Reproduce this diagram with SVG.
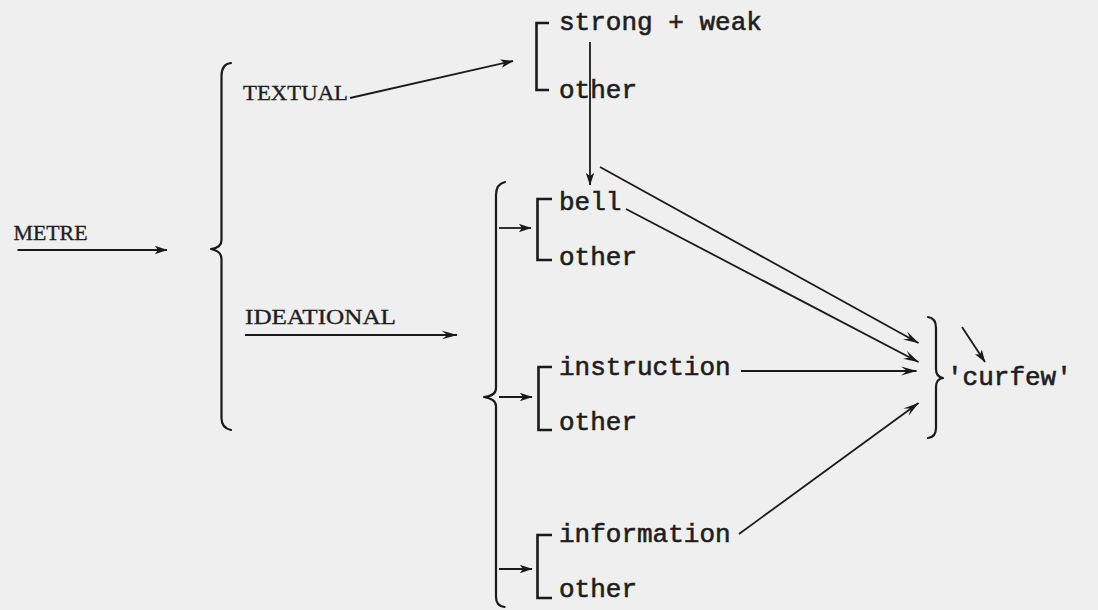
<svg xmlns="http://www.w3.org/2000/svg" width="1098" height="610" viewBox="0 0 1098 610">
  <defs>
    <marker id="head" viewBox="0 0 12 8" refX="11.5" refY="4" markerWidth="13" markerHeight="8.5" markerUnits="userSpaceOnUse" orient="auto">
      <path d="M0,0 L12,4 L0,8 L3,4 z" fill="#1a1a1a"/>
    </marker>
    <marker id="barb" viewBox="0 0 16 10" refX="15.5" refY="5" markerWidth="16" markerHeight="10" markerUnits="userSpaceOnUse" orient="auto">
      <path d="M0,0.5 L16,5 L0,9.5 L6,5 z" fill="#1a1a1a"/>
    </marker>
  </defs>
  <style>
    .caps { font-family: "Liberation Serif", "Times New Roman", serif; font-size: 22px; fill: #1e1e1e; stroke: #1e1e1e; stroke-width: 0.35; }
    .mono { font-family: "Liberation Mono", "Courier New", monospace; font-size: 26px; fill: #1e1e1e; stroke: #1e1e1e; stroke-width: 0.6; }
    .brace { fill: none; stroke: #1a1a1a; stroke-width: 2.2; stroke-linecap: round; stroke-linejoin: round; }
    .bracket { fill: none; stroke: #1a1a1a; stroke-width: 2.6; stroke-linejoin: miter; }
    .link { fill: none; stroke: #1a1a1a; stroke-width: 1.8; }
  </style>
  <rect width="1098" height="610" fill="#efefef"/>

  <!-- entry term -->
  <g id="metre">
    <text class="caps" x="13.5" y="240" textLength="74" lengthAdjust="spacingAndGlyphs">METRE</text>
  </g>

  <!-- first choice: textual / ideational -->
  <g id="metafunction">
    <path class="brace" d="M231,63 Q221.5,64 221.5,76 L221.5,240 Q221.5,248 211,249 Q221.5,251 221.5,259 L221.5,418 Q221.5,428 231,430"/>
    <text class="caps" x="243" y="100" textLength="105" lengthAdjust="spacingAndGlyphs">TEXTUAL</text>
    <text class="caps" x="245" y="324" textLength="151" lengthAdjust="spacingAndGlyphs">IDEATIONAL</text>
  </g>

  <!-- textual system -->
  <g id="textual-system">
    <path class="bracket" d="M549,23 L536.5,23 L536.5,90 L549,90"/>
    <text class="mono" x="559" y="30">strong + weak</text>
    <text class="mono" x="559" y="98">other</text>
  </g>

  <!-- ideational simultaneous systems -->
  <g id="ideational">
    <path class="brace" d="M505,182 Q496,184 496,195 L496,388 Q496,396 484,397 Q496,399 496,406 L496,597 Q496,606 504.5,607"/>
  </g>

  <g id="bell-system">
    <path class="bracket" d="M552,199 L537.5,199 L537.5,260 L552,260"/>
    <text class="mono" x="559" y="210">bell</text>
    <text class="mono" x="559" y="265">other</text>
  </g>

  <g id="instruction-system">
    <path class="bracket" d="M552,367 L538.5,367 L538.5,430 L552,430"/>
    <text class="mono" x="559" y="375">instruction</text>
    <text class="mono" x="559" y="430">other</text>
  </g>

  <g id="information-system">
    <path class="bracket" d="M552,535 L537.5,535 L537.5,598 L552,598"/>
    <text class="mono" x="559" y="542">information</text>
    <text class="mono" x="559" y="597">other</text>
  </g>

  <!-- lexical item -->
  <g id="curfew">
    <path class="brace" d="M928,317 Q936,318 936,328 L936,369 Q936,377 943,378 Q936,379 936,387 L936,428 Q936,437 928,438"/>
    <text class="mono" x="947" y="385">'curfew'</text>
  </g>

  <!-- connectors -->
  <g id="connectors">
    <line class="link" x1="17.5" y1="250" x2="167" y2="250" marker-end="url(#head)" stroke-width="1.4"/>
    <line class="link" x1="350" y1="98" x2="513" y2="61" marker-end="url(#head)" stroke-width="2.1"/>
    <line class="link" x1="245" y1="335" x2="457" y2="335" marker-end="url(#barb)" stroke-width="2.1"/>
    <line class="link" x1="590" y1="42" x2="590" y2="185" marker-end="url(#head)"/>
    <line class="link" x1="499" y1="228" x2="531" y2="228" marker-end="url(#head)"/>
    <line class="link" x1="499" y1="397" x2="532" y2="397" marker-end="url(#head)"/>
    <line class="link" x1="499" y1="569" x2="532" y2="569" marker-end="url(#head)"/>
    <line class="link" x1="600" y1="167" x2="918.5" y2="343" marker-end="url(#barb)"/>
    <line class="link" x1="626" y1="209" x2="918.5" y2="362" marker-end="url(#barb)"/>
    <line class="link" x1="741" y1="371" x2="916.5" y2="371" marker-end="url(#barb)"/>
    <line class="link" x1="739" y1="534" x2="918.5" y2="403" marker-end="url(#barb)"/>
    <line class="link" x1="962" y1="327" x2="985" y2="362" marker-end="url(#head)"/>
  </g>
</svg>
